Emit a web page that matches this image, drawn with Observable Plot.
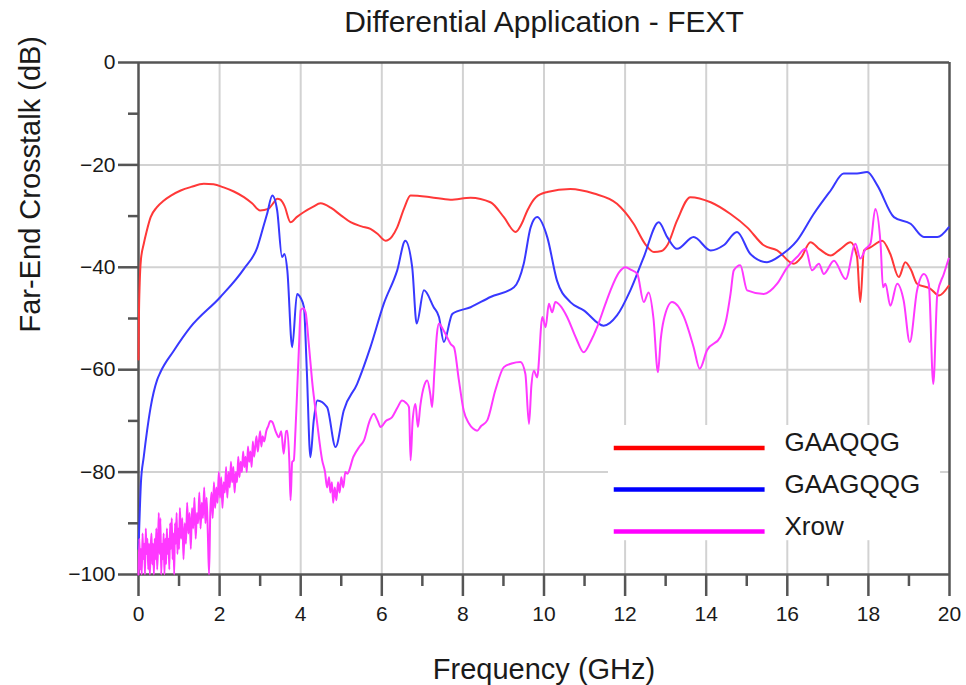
<!DOCTYPE html>
<html>
<head>
<meta charset="utf-8">
<script src="https://cdn.jsdelivr.net/npm/d3@7"></script>
<script src="https://cdn.jsdelivr.net/npm/@observablehq/plot@0.6"></script>
<style>
  html, body { margin: 0; padding: 0; background: #fff; }
  #chart svg { display: block; overflow: visible; }
</style>
</head>
<body>
<div id="chart"></div>
<script>
// ---------- text ----------
const titleText = "Differential Application - FEXT";
const xLabel = "Frequency (GHz)";
const yLabel = "Far-End Crosstalk (dB)";
const seriesNames = ["GAAQQG", "GAAGQQG", "Xrow"];
const seriesColors = ["#ff3838", "#3838ff", "#ff38ff"];
const legendColors = ["#ff0000", "#0000ff", "#ff00ff"];

// ---------- ticks ----------
const xTicks = [0, 2, 4, 6, 8, 10, 12, 14, 16, 18, 20];
const xMinor = [1, 3, 5, 7, 9, 11, 13, 15, 17, 19];
const yTicks = [0, -20, -40, -60, -80, -100];
const yMinor = [-10, -30, -50, -70, -90];

// ---------- GAAQQG (red) ----------
const redF = [0.00, 0.01, 0.03, 0.06, 0.13, 0.20, 0.30, 0.45, 0.62, 0.80, 1.04, 1.30, 1.61, 1.85, 2.10, 2.35, 2.60, 2.80, 3.00, 3.20, 3.32, 3.42, 3.50, 3.60, 3.75, 3.90, 4.08, 4.30, 4.49, 4.75, 5.00, 5.23, 5.50, 5.72, 5.90, 6.09, 6.25, 6.38, 6.55, 6.71, 7.20, 7.69, 8.19, 8.68, 9.01, 9.30, 9.45, 9.59, 9.80, 10.08, 10.65, 11.23, 11.80, 12.21, 12.50, 12.71, 12.90, 13.04, 13.28, 13.61, 14.11, 14.60, 15.01, 15.42, 15.75, 16.16, 16.35, 16.57, 16.80, 17.07, 17.30, 17.56, 17.72, 17.80, 17.89, 18.05, 18.34, 18.54, 18.75, 18.91, 19.05, 19.20, 19.53, 19.74, 19.98];
const redDb = [-58, -50, -43, -38.5, -35.4, -33, -30.2, -28.3, -27, -26, -25, -24.3, -23.7, -23.8, -24.4, -25.2, -26.3, -27.5, -28.9, -28.6, -27.5, -26.6, -26.8, -28, -31.2, -30.2, -29.2, -28.2, -27.5, -28.4, -29.9, -31.2, -32, -32.5, -33.5, -34.8, -34, -32.2, -28.5, -26, -26.3, -26.8, -26.4, -27.3, -30.2, -33.1, -31.5, -28.9, -26.3, -25.3, -24.7, -25.6, -27.6, -31.5, -35.5, -37, -36.8, -35.7, -30.9, -26.3, -27.3, -29.6, -32.2, -35.7, -36.7, -39.3, -38, -35.1, -36.5, -37.7, -36.5, -35.1, -38, -46.8, -36.7, -36.1, -34.8, -37.4, -41.9, -39, -40.5, -43.2, -44.2, -45.5, -43.6];

// ---------- GAAGQQG (blue) ----------
const blueF = [0.00, 0.03, 0.06, 0.13, 0.21, 0.30, 0.46, 0.54, 0.87, 1.28, 2.02, 2.60, 2.93, 3.10, 3.17, 3.30, 3.42, 3.54, 3.60, 3.67, 3.79, 3.91, 4.00, 4.08, 4.15, 4.24, 4.32, 4.41, 4.65, 4.86, 5.06, 5.39, 5.72, 6.05, 6.38, 6.58, 6.75, 6.86, 7.04, 7.28, 7.41, 7.53, 7.74, 8.19, 8.68, 9.26, 9.50, 9.67, 9.83, 10.08, 10.32, 10.65, 10.98, 11.47, 11.80, 12.13, 12.46, 12.83, 13.04, 13.28, 13.69, 14.11, 14.43, 14.76, 15.09, 15.50, 15.83, 16.24, 16.65, 17.07, 17.39, 17.72, 17.97, 18.22, 18.63, 19.04, 19.37, 19.70, 19.98];
const blueDb = [-95, -88, -82, -77, -72, -67.3, -62, -60.5, -56.3, -51.7, -45.8, -40.3, -36.1, -31.5, -29.6, -26, -28.9, -38, -37.4, -40.6, -55.6, -45.2, -46, -47.8, -60, -77.1, -70, -66, -67.3, -75.1, -68, -62.8, -55.6, -47.1, -40.6, -34.8, -40, -51, -44.5, -47.8, -49.7, -54.6, -49.1, -47.8, -45.8, -43.9, -39.3, -32.2, -30.2, -34.1, -42.6, -46.8, -48.4, -51.4, -49.4, -44.5, -38, -31.2, -34.1, -36.4, -34.1, -36.7, -35.7, -33.1, -37.4, -39, -37.7, -34.8, -29.6, -25, -21.7, -21.7, -21.4, -24, -30.2, -31.5, -34.1, -34.1, -32.2];

// ---------- Xrow (magenta) ----------
const xrowF = [0.00, 0.02, 0.04, 0.06, 0.08, 0.10, 0.12, 0.14, 0.16, 0.18, 0.20, 0.22, 0.24, 0.26, 0.28, 0.30, 0.32, 0.34, 0.36, 0.38, 0.40, 0.42, 0.44, 0.46, 0.48, 0.50, 0.52, 0.54, 0.56, 0.58, 0.60, 0.62, 0.64, 0.66, 0.68, 0.70, 0.72, 0.74, 0.76, 0.78, 0.80, 0.82, 0.84, 0.86, 0.88, 0.90, 0.92, 0.94, 0.96, 0.98, 1.00, 1.02, 1.05, 1.08, 1.11, 1.14, 1.17, 1.20, 1.23, 1.26, 1.29, 1.32, 1.35, 1.38, 1.41, 1.44, 1.47, 1.50, 1.53, 1.56, 1.59, 1.62, 1.65, 1.68, 1.71, 1.74, 1.77, 1.80, 1.83, 1.86, 1.89, 1.92, 1.95, 1.98, 2.01, 2.04, 2.07, 2.10, 2.13, 2.16, 2.19, 2.22, 2.25, 2.28, 2.31, 2.34, 2.37, 2.40, 2.43, 2.46, 2.49, 2.52, 2.55, 2.58, 2.61, 2.64, 2.67, 2.70, 2.73, 2.76, 2.79, 2.82, 2.85, 2.88, 2.91, 2.94, 2.97, 3.00, 3.03, 3.06, 3.10, 3.15, 3.20, 3.25, 3.30, 3.38, 3.46, 3.52, 3.58, 3.64, 3.67, 3.72, 3.75, 3.79, 3.83, 3.87, 3.91, 3.96, 4.00, 4.06, 4.12, 4.20, 4.28, 4.40, 4.53, 4.60, 4.65, 4.70, 4.73, 4.77, 4.80, 4.84, 4.88, 4.92, 4.96, 5.00, 5.05, 5.10, 5.15, 5.30, 5.45, 5.56, 5.70, 5.80, 5.90, 5.97, 6.10, 6.25, 6.38, 6.50, 6.60, 6.67, 6.71, 6.76, 6.83, 6.89, 6.95, 7.05, 7.12, 7.20, 7.24, 7.30, 7.36, 7.41, 7.50, 7.57, 7.70, 7.78, 7.90, 8.02, 8.15, 8.25, 8.35, 8.45, 8.60, 8.80, 9.01, 9.20, 9.42, 9.54, 9.63, 9.69, 9.75, 9.83, 9.96, 10.04, 10.12, 10.20, 10.28, 10.40, 10.57, 10.80, 10.98, 11.15, 11.31, 11.50, 11.64, 11.85, 12.01, 12.15, 12.30, 12.46, 12.58, 12.70, 12.81, 12.88, 12.95, 13.16, 13.45, 13.69, 13.84, 14.02, 14.35, 14.50, 14.60, 14.68, 14.84, 15.01, 15.42, 15.75, 16.00, 16.24, 16.45, 16.61, 16.78, 16.90, 17.15, 17.44, 17.68, 17.80, 17.93, 18.05, 18.17, 18.30, 18.36, 18.42, 18.54, 18.71, 18.87, 19.02, 19.20, 19.37, 19.49, 19.60, 19.70, 19.86, 19.98];
const xrowDb = [-100, -93, -99, -95, -100, -92, -97, -94, -100, -91, -96, -93, -99, -94, -100, -95, -92, -98, -94, -100, -93, -97, -91, -99, -95, -88, -96, -89, -100, -94, -97, -92, -100, -93, -98, -91, -96, -93, -99, -90, -95, -89, -97, -92, -100, -90, -94, -88, -96, -91, -95, -87, -93, -89, -97, -90, -94, -86, -92, -88, -95, -87, -91, -85, -93, -88, -90, -84, -91, -86, -89, -83, -90, -85, -92, -100, -88, -84, -89, -82, -87, -83, -86, -80, -85, -81, -87, -82, -84, -79, -85, -80, -83, -78, -82, -79, -84, -80, -82, -77, -81, -78, -80, -76, -79, -77, -80, -75, -78, -76, -79, -74, -77, -75, -73, -76, -74, -72, -75, -73, -74, -72, -71, -70, -70.2, -72, -73.2, -72, -76.4, -72, -71.9, -78, -85.5, -78, -77.7, -72, -64.7, -55, -48.4, -48, -48.8, -55, -62.1, -70, -77.7, -80, -83, -81, -84, -82, -86, -83, -85.5, -82, -84, -81, -83, -80, -80.3, -77, -75, -73.8, -70, -68.6, -70, -71.2, -70, -69.3, -67.5, -66, -66.5, -67.3, -77.7, -70, -66.7, -71.2, -67, -63, -62.1, -65, -67.3, -60, -53, -51, -52, -53, -55, -55.6, -62, -68, -70.5, -71.5, -71.9, -71, -69.9, -64, -59.5, -58.8, -58.5, -60.8, -70.6, -63, -60.2, -61.5, -49.7, -51.7, -47.1, -48.8, -46.8, -47.5, -49.7, -54, -56.6, -54.5, -51.7, -47.5, -44.5, -41, -40, -40.5, -41.3, -46.8, -44.9, -50, -60.5, -54, -50.4, -46.8, -49.7, -55.6, -59.8, -56.2, -53.6, -50, -45.2, -40.6, -39.6, -44.5, -45.2, -43.2, -40, -38, -36.4, -40.6, -39.3, -41.3, -38.7, -42.3, -35.4, -38.3, -36.4, -35.4, -28.6, -35.4, -43.9, -43.2, -47.5, -43.2, -46.5, -54.6, -44.5, -41.3, -43.2, -62.8, -45.2, -41.3, -38.3];

// ---------- assemble rows for Plot ----------
function rows(name, fs, dbs) { return fs.map((f, i) => ({series: name, f, db: dbs[i]})); }
const seriesData = [
  rows(seriesNames[0], redF, redDb),
  rows(seriesNames[1], blueF, blueDb),
  rows(seriesNames[2], xrowF, xrowDb)
];

// ---------- layout (not data) ----------
const layout = {width: 966, height: 685, ml: 138, mr: 17, mt: 62, mb: 111};
const legendPos = {boxX1: 11.59, boxX2: 19.78, boxY1: -70.9, boxY2: -93.4,
                   lineX1: 11.72, lineX2: 15.44, textX: 15.93, rowY: [-75.3, -83.4, -91.6]};
const legendRows = seriesNames.map((name, i) => ({name, color: legendColors[i], y: legendPos.rowY[i]}));

const font = "'Liberation Sans', Arial, Helvetica, sans-serif";
const axisColor = "#555";
const gridColor = "#d2d2d2";

const chart = Plot.plot({
  width: layout.width,
  height: layout.height,
  marginLeft: layout.ml,
  marginRight: layout.mr,
  marginTop: layout.mt,
  marginBottom: layout.mb,
  style: {fontFamily: font, fontSize: "21px", color: "#1a1a1a", background: "#fff"},
  x: {domain: [0, 20]},
  y: {domain: [-100, 0]},
  marks: [
    // grid
    Plot.ruleX(xTicks.slice(1, -1), {stroke: gridColor, strokeWidth: 2}),
    Plot.ruleY(yTicks.slice(1, -1), {stroke: gridColor, strokeWidth: 2}),
    // legend background
    Plot.rect([legendPos], {x1: "boxX1", x2: "boxX2", y1: "boxY1", y2: "boxY2", fill: "#fff"}),
    // axes: major & minor ticks
    Plot.axisX(xTicks, {tickSize: 22, tickPadding: 10, stroke: axisColor, strokeWidth: 2.5, label: null, fontSize: 21}),
    Plot.axisX(xMinor, {tickSize: 12, stroke: axisColor, strokeWidth: 2.5, label: null, tickFormat: () => ""}),
    Plot.axisY(yTicks, {tickSize: 20, tickPadding: 3, stroke: axisColor, strokeWidth: 2.5, label: null, fontSize: 21}),
    Plot.axisY(yMinor, {tickSize: 10, stroke: axisColor, strokeWidth: 2.5, label: null, tickFormat: () => ""}),
    // frame
    Plot.ruleX([0, 20], {stroke: axisColor, strokeWidth: 2.5}),
    Plot.ruleY([0, -100], {stroke: axisColor, strokeWidth: 2.5}),
    // series
    ...seriesData.map((d, i) => Plot.line(d, {x: "f", y: "db", stroke: seriesColors[i], strokeWidth: 2, curve: "monotone-x"})),
    // legend
    Plot.link(legendRows, {x1: () => legendPos.lineX1, x2: () => legendPos.lineX2, y1: "y", y2: "y", stroke: "color", strokeWidth: 4.5}),
    Plot.text(legendRows, {x: () => legendPos.textX, y: "y", text: "name", textAnchor: "start", lineAnchor: "middle", dy: -5, fontSize: 26, fill: "#1a1a1a"}),
    // titles
    Plot.text([titleText], {frameAnchor: "top", lineAnchor: "bottom", dy: -31, fontSize: 30, fill: "#1a1a1a"}),
    Plot.text([xLabel], {frameAnchor: "bottom", lineAnchor: "bottom", dy: 104, fontSize: 29, fill: "#1a1a1a"}),
    Plot.text([yLabel], {frameAnchor: "left", lineAnchor: "bottom", rotate: -90, dx: -99, dy: 14, fontSize: 29, fill: "#1a1a1a"})
  ]
});
document.getElementById("chart").appendChild(chart);
</script>
</body>
</html>
